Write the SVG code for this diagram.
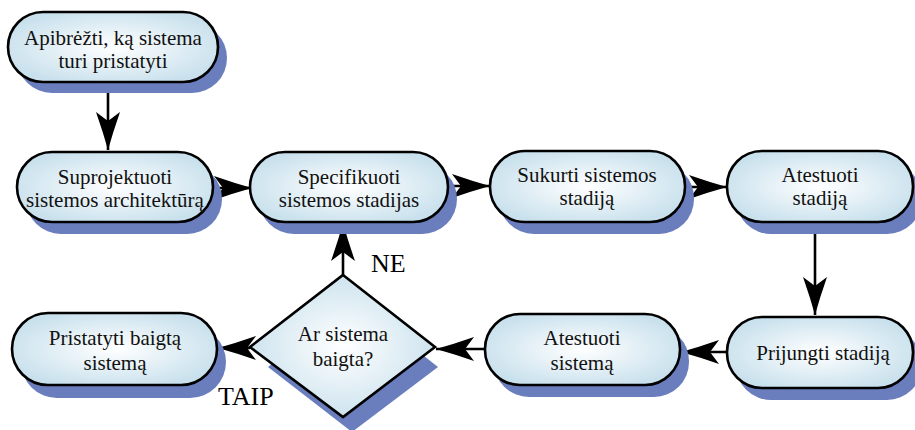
<svg xmlns="http://www.w3.org/2000/svg" width="915" height="430" viewBox="0 0 915 430">
<defs>
<radialGradient id="fillGrad" cx="50%" cy="50%" r="55%">
<stop offset="0" stop-color="#ffffff"/>
<stop offset="1" stop-color="#c9e1ed"/>
</radialGradient>
<marker id="arrow" markerUnits="userSpaceOnUse" markerWidth="40" markerHeight="26" viewBox="0 0 40 26" refX="38" refY="13" orient="auto">
<path d="M0,1 Q20,8 38,13 Q20,18 0,25 L9,13 Z" fill="#000"/>
</marker>
</defs>
<style>
.shadow{fill:#6a7dbd;}
.node{fill:url(#fillGrad);stroke:#000;stroke-width:2.6;}
.t{font-family:'Liberation Serif','DejaVu Serif',serif;font-size:21px;fill:#111;text-anchor:middle;}
.lbl{font-family:'Liberation Serif','DejaVu Serif',serif;font-size:26px;fill:#000;}
.conn{stroke:#000;stroke-width:2.6;fill:none;marker-end:url(#arrow);}
</style>
<rect width="915" height="430" fill="#fff"/>

<g id="connectors">
<line class="conn" x1="108" y1="82" x2="108" y2="150"/>
<line class="conn" x1="213" y1="188" x2="252" y2="188"/>
<line class="conn" x1="448" y1="186" x2="490" y2="186"/>
<line class="conn" x1="685" y1="187" x2="727" y2="187"/>
<line class="conn" x1="815" y1="222" x2="815" y2="315"/>
<line class="conn" x1="727" y1="352" x2="681" y2="352"/>
<line class="conn" x1="485" y1="349" x2="436" y2="349"/>
<line class="conn" x1="250" y1="348" x2="218" y2="348"/>
<line class="conn" x1="343" y1="275" x2="343" y2="223"/>
</g>

<g id="n1">
<rect class="shadow" x="17" y="23" width="210" height="70" rx="35"/>
<rect class="node" x="8" y="12" width="210" height="70" rx="35"/>
<text class="t" x="113" y="45">Apibrėžti, ką sistema</text>
<text class="t" x="113" y="68">turi pristatyti</text>
</g>

<g id="n2">
<rect class="shadow" x="26" y="164" width="196" height="70" rx="35"/>
<rect class="node" x="17" y="152" width="196" height="70" rx="35"/>
<text class="t" x="115" y="184">Suprojektuoti</text>
<text class="t" x="115" y="207">sistemos architektūrą</text>
</g>

<g id="n3">
<rect class="shadow" x="259" y="164" width="198" height="70" rx="35"/>
<rect class="node" x="250" y="152" width="198" height="70" rx="35"/>
<text class="t" x="349" y="184">Specifikuoti</text>
<text class="t" x="349" y="207">sistemos stadijas</text>
</g>

<g id="n4">
<rect class="shadow" x="499" y="163" width="195" height="71" rx="35"/>
<rect class="node" x="490" y="151" width="195" height="71" rx="35"/>
<text class="t" x="587" y="182">Sukurti sistemos</text>
<text class="t" x="587" y="205">stadiją</text>
</g>

<g id="n5">
<rect class="shadow" x="736" y="163" width="186" height="71" rx="35"/>
<rect class="node" x="727" y="151" width="186" height="71" rx="35"/>
<text class="t" x="820" y="182">Atestuoti</text>
<text class="t" x="820" y="205">stadiją</text>
</g>

<g id="n6">
<rect class="shadow" x="736" y="329" width="186" height="71" rx="35"/>
<rect class="node" x="727" y="317" width="186" height="71" rx="35"/>
<text class="t" x="823" y="360">Prijungti stadiją</text>
</g>

<g id="n7">
<rect class="shadow" x="494" y="326" width="195" height="71" rx="35"/>
<rect class="node" x="485" y="314" width="195" height="71" rx="35"/>
<text class="t" x="582" y="345">Atestuoti</text>
<text class="t" x="582" y="370">sistemą</text>
</g>

<g id="n8">
<polygon class="shadow" points="353,300 438,367 352,432 268,367"/>
<polygon class="node" points="343,275 435,347 343,417 250,347"/>
<text class="t" x="343" y="341">Ar sistema</text>
<text class="t" x="343" y="366">baigta?</text>
</g>

<g id="n9">
<rect class="shadow" x="21" y="326" width="205" height="72" rx="36"/>
<rect class="node" x="12" y="313" width="205" height="72" rx="36"/>
<text class="t" x="115" y="345">Pristatyti baigtą</text>
<text class="t" x="115" y="370">sistemą</text>
</g>

<g id="labels">
<text class="lbl" x="371" y="272">NE</text>
<text class="lbl" x="218" y="405">TAIP</text>
</g>
</svg>
